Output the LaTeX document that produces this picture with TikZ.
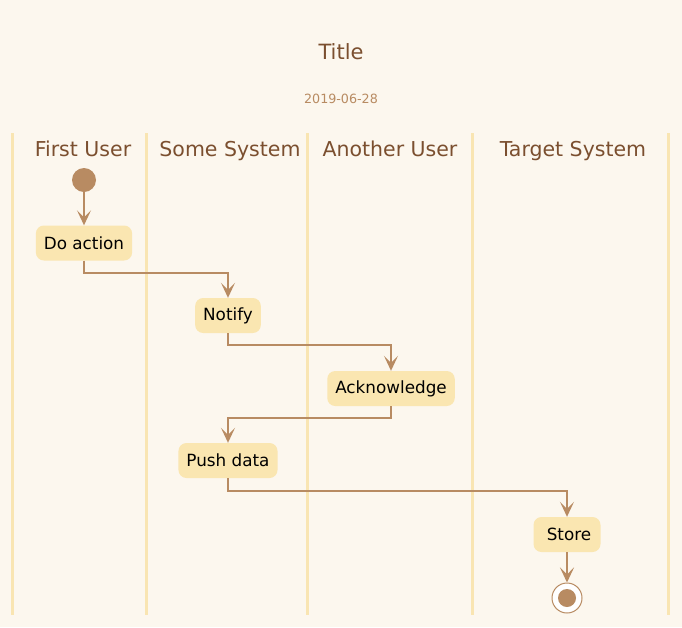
\documentclass[tikz,border=0pt]{standalone}
\usepackage{fontspec}
\setmainfont{DejaVu Sans}
\usetikzlibrary{arrows.meta}
\definecolor{bg}{HTML}{FCF7EE}
\definecolor{nodefill}{HTML}{FAE6B1}
\definecolor{linec}{HTML}{B88B62}
\definecolor{lanec}{HTML}{F9E5B2}
\definecolor{titlec}{HTML}{7B4F2F}
\definecolor{datec}{HTML}{B88B62}
\tikzset{
  act/.style={fill=nodefill, rounded corners=8pt, minimum height=35pt, inner xsep=8pt, text=black, font=\fontsize{16.8}{20}\selectfont},
  flow/.style={draw=linec, line width=2pt, -{Stealth[length=15pt,width=14pt,inset=7pt]}},
  lane/.style={draw=lanec, line width=3pt},
  lanetitle/.style={anchor=base, text=titlec, font=\fontsize{20.5}{24}\selectfont},
}
\begin{document}
\begin{tikzpicture}[x=1pt,y=-1pt]
\fill[bg] (0,0) rectangle (682,627);
\useasboundingbox (0,0) rectangle (682,627);
% title
\node[text=titlec, font=\fontsize{21}{24}\selectfont] (title) at (341,52) {Title};
\node[text=datec, font=\fontsize{12.7}{15}\selectfont] (date) at (341,99) {2019-06-28};
% lanes
\foreach \x in {12.5,146.5,307.5,472.5,668.5} \draw[lane] (\x,133) -- (\x,615);
\node[lanetitle] (l1) at (83,156) {First User};
\node[lanetitle] (l2) at (230,156) {Some System};
\node[lanetitle] (l3) at (390,156) {Another User};
\node[lanetitle] (l4) at (573,156) {Target System};
% nodes
\node[circle, fill=linec, minimum size=24pt, inner sep=0pt] (start) at (84,180) {};
\node[act] (a1) at (84,243) {Do action};
\node[act] (a2) at (228,315.5) {Notify};
\node[act] (a3) at (391,388.5) {Acknowledge};
\node[act] (a4) at (228,460.5) {Push data};
\node[act, minimum width=67pt] (a5) at (567,534.5) {\hspace{4pt}Store};
\node[circle, draw=linec, line width=1pt, fill=white, minimum size=30pt, inner sep=0pt] (stop) at (567,598) {};
\node[circle, fill=linec, minimum size=18pt, inner sep=0pt] (stopin) at (stop.center) {};
% connectors
\draw[flow] (start) -- (start |- a1.north);
\draw[flow] (a1.south) -- ++(0,12) -| (a2.north);
\draw[flow] (a2.south) -- ++(0,12) -| (a3.north);
\draw[flow] (a3.south) -- ++(0,12) -| (a4.north);
\draw[flow] (a4.south) -- ++(0,13) -| (a5.north);
\draw[flow] (a5) -- (stop);
\end{tikzpicture}
\end{document}
